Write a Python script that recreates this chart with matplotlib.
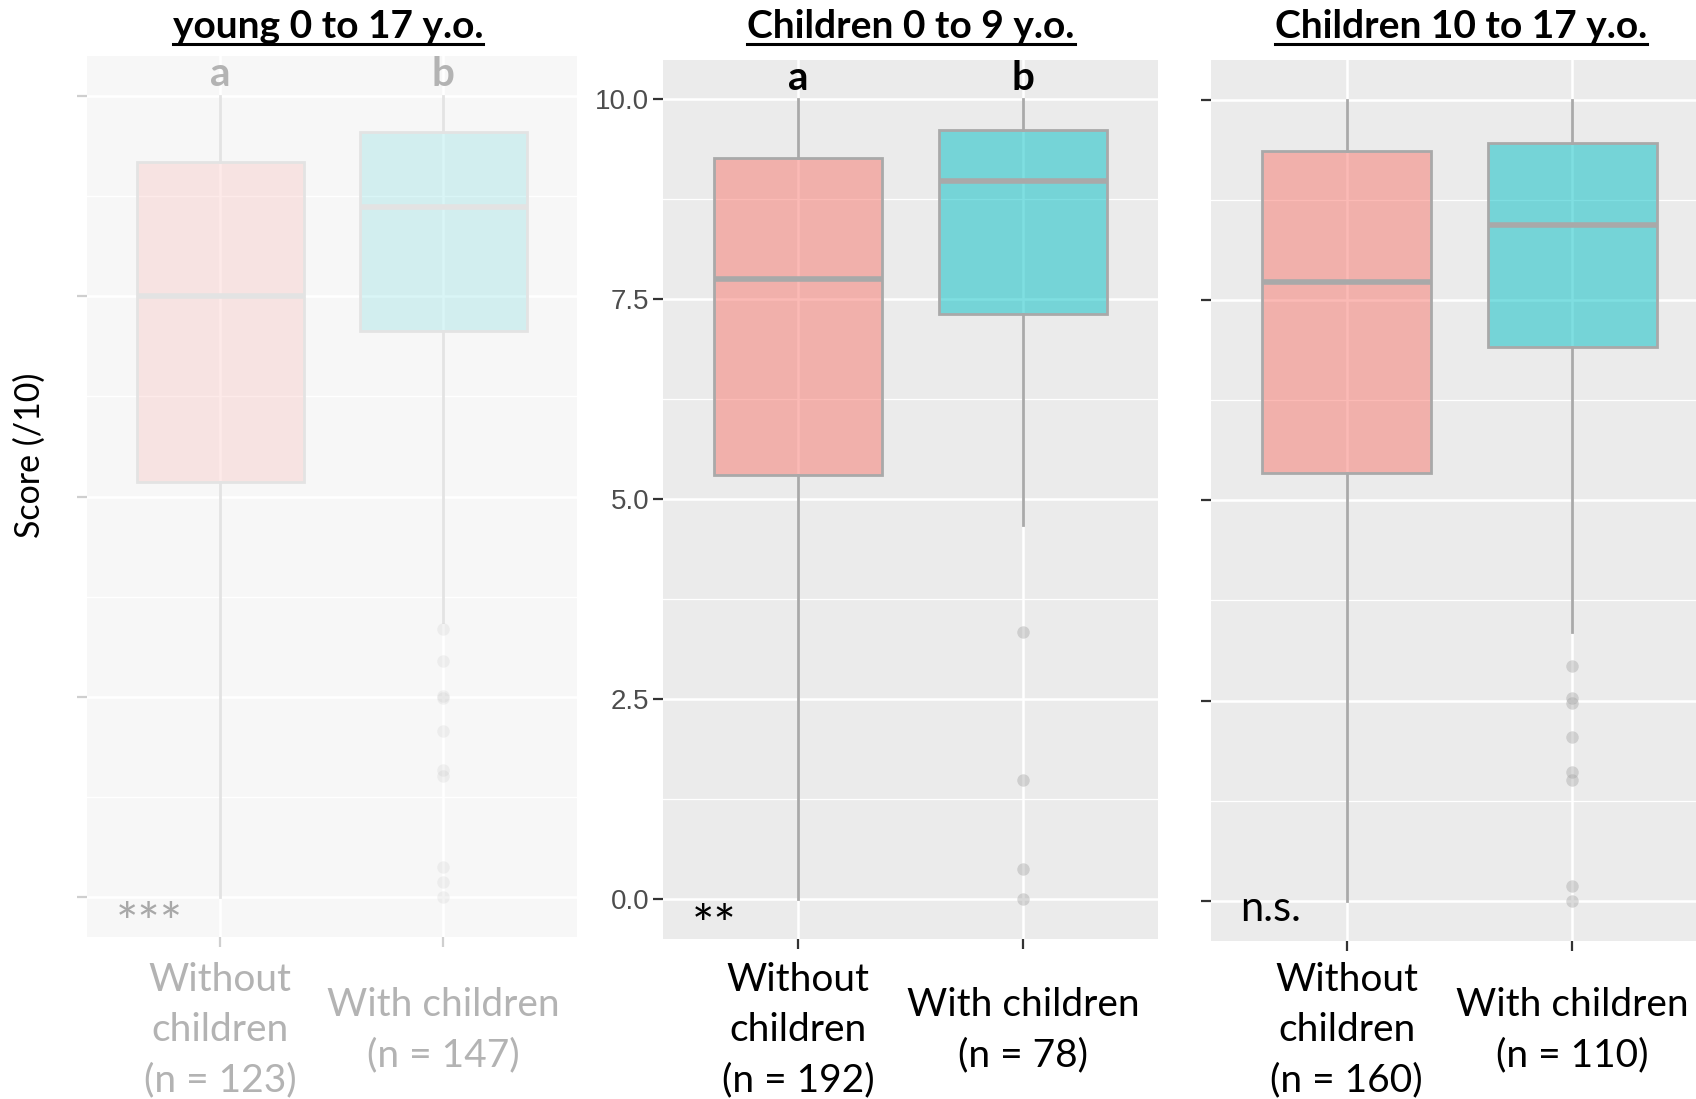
import matplotlib
matplotlib.use("Agg")
import matplotlib.pyplot as plt
import matplotlib.transforms as mtransforms
from matplotlib.lines import Line2D

# ---------------- data ----------------
categories = ["Without\nchildren", "With children"]
panel_titles = ["young 0 to 17 y.o.", "Children 0 to 9 y.o.", "Children 10 to 17 y.o."]
n_counts = [[123, 147], [192, 78], [160, 110]]
letters = [["a", "b"], ["a", "b"], None]
signif = ["***", "**", "n.s."]

q1 = [[5.18, 7.07], [5.30, 7.32], [5.34, 6.91]]
med = [[7.50, 8.62], [7.75, 8.98], [7.72, 8.43]]
q3 = [[9.18, 9.55], [9.27, 9.62], [9.36, 9.46]]
whislo = [[0.0, 3.43], [0.0, 4.68], [0.0, 3.35]]
whishi = [[10.0, 10.0], [10.0, 10.0], [10.0, 10.0]]
outliers = [
    [[], [3.35, 2.95, 2.51, 2.49, 2.07, 1.59, 1.51, 0.38, 0.19, 0.0]],
    [[], [3.34, 1.49, 0.38, 0.0]],
    [[], [2.93, 2.53, 2.47, 2.05, 1.61, 1.51, 0.19, 0.0]],
]
y_ticks = [0.0, 2.5, 5.0, 7.5, 10.0]
y_minor = [1.25, 3.75, 6.25, 8.75]

# ---------------- layout ----------------
W, H, DPI = 1696, 1099, 100
fig = plt.figure(figsize=(W / DPI, H / DPI), dpi=DPI)
fig.patch.set_facecolor("white")

FONT = "Lato"
# axes rectangles in pixels: left, top, right, bottom
rects = [(86.5, 56, 577, 937), (663, 59.5, 1158, 939), (1211, 59.5, 1708, 941)]

themes = [
    dict(bg="#F7F7F7", edge="#E3E3E3", alpha=0.15, text="#B3B3B3", star="#A8A8A8",
         tick="#CFCFCF", pt_alpha=0.12, grid="#FFFFFF"),
    dict(bg="#EBEBEB", edge="#A9A9A9", alpha=0.5, text="black", star="black",
         tick="#333333", pt_alpha=0.38, grid="#FFFFFF"),
    dict(bg="#EBEBEB", edge="#A9A9A9", alpha=0.5, text="black", star="black",
         tick="#333333", pt_alpha=0.38, grid="#FFFFFF"),
]
fills = ["#F8766D", "#00BFC4"]

titles = []
for p in range(3):
    l, t, r, b = rects[p]
    th = themes[p]
    ax = fig.add_axes([l / W, 1 - b / H, (r - l) / W, (b - t) / H])
    ax.set_facecolor(th["bg"])
    ax.set_xlim(-0.6, 1.6)
    ax.set_ylim(-0.5, 10.5)
    for s in ax.spines.values():
        s.set_visible(False)
    ax.set_yticks(y_ticks)
    ax.set_yticks(y_minor, minor=True)
    ax.set_xticks([0, 1])
    ax.set_xticklabels([])
    ax.grid(which="major", color=th["grid"], linewidth=1.8)
    ax.grid(which="minor", axis="y", color=th["grid"], linewidth=0.9)
    ax.set_axisbelow(True)
    ax.tick_params(which="major", length=7, width=1.6, color=th["tick"], pad=3)
    ax.tick_params(which="minor", length=0)
    if p == 1:
        ax.set_yticklabels(["0.0", "2.5", "5.0", "7.5", "10.0"],
                           fontfamily="Liberation Sans", fontsize=20, color="#4D4D4D")
    else:
        ax.set_yticklabels([])

    stats = []
    for i in range(2):
        stats.append(dict(med=med[p][i], q1=q1[p][i], q3=q3[p][i],
                          whislo=whislo[p][i], whishi=whishi[p][i],
                          fliers=outliers[p][i], label=categories[i]))
    bp = ax.bxp(stats, positions=[0, 1], widths=0.75, patch_artist=True,
                showcaps=False, manage_ticks=False,
                boxprops=dict(edgecolor=th["edge"], linewidth=2.0),
                whiskerprops=dict(color=th["edge"], linewidth=2.0),
                medianprops=dict(color=th["edge"], linewidth=4.0, solid_capstyle="butt"),
                flierprops=dict(marker="o", markersize=9, markerfacecolor="#A0A0A0",
                                markeredgecolor="none", alpha=th["pt_alpha"]))
    for patch, fc in zip(bp["boxes"], fills):
        patch.set_facecolor(matplotlib.colors.to_rgba(fc, th["alpha"]))
        patch.set_edgecolor(th["edge"])

    # group letters
    if letters[p] is not None:
        for i, lt in enumerate(letters[p]):
            ax.text(i, 10.12, lt, ha="center", va="baseline", fontfamily=FONT,
                    fontweight="bold", fontsize=29, color=th["text"])
    # significance
    if signif[p].startswith("*"):
        ax.text(-0.47, -0.55, signif[p], ha="left", va="baseline", fontfamily=FONT,
                fontsize=38, color=th["star"])
    else:
        ax.text(-0.47, -0.25, signif[p], ha="left", va="baseline", fontfamily=FONT,
                fontsize=30, color=th["star"])
    # x category labels
    tr = mtransforms.blended_transform_factory(ax.transData, fig.transFigure)
    for i in range(2):
        ax.text(i, 1 - 1030 / H, f"{categories[i]}\n(n = {n_counts[p][i]})",
                transform=tr, ha="center", va="center", multialignment="center",
                fontfamily=FONT, fontsize=28, linespacing=1.49, color=th["text"])

# panel titles
title_x = [328, 911, 1461]
for p in range(3):
    tt = fig.text(title_x[p] / W, 1 - 38 / H, panel_titles[p], ha="center", va="baseline",
                  fontfamily=FONT, fontweight="bold", fontsize=28, color="black")
    titles.append(tt)

fig.text(30 / W, 1 - 455 / H, "Score (/10)", rotation=90, ha="center", va="center",
         fontfamily=FONT, fontsize=24.5, color="black")

fig.canvas.draw()
renderer = fig.canvas.get_renderer()
for tt in titles:
    bb = tt.get_window_extent(renderer)
    yline = (H - 44) / H
    fig.add_artist(Line2D([bb.x0 / W, bb.x1 / W], [yline, yline],
                          transform=fig.transFigure, color="black", linewidth=2.2))

fig.savefig("out.png", dpi=DPI)
